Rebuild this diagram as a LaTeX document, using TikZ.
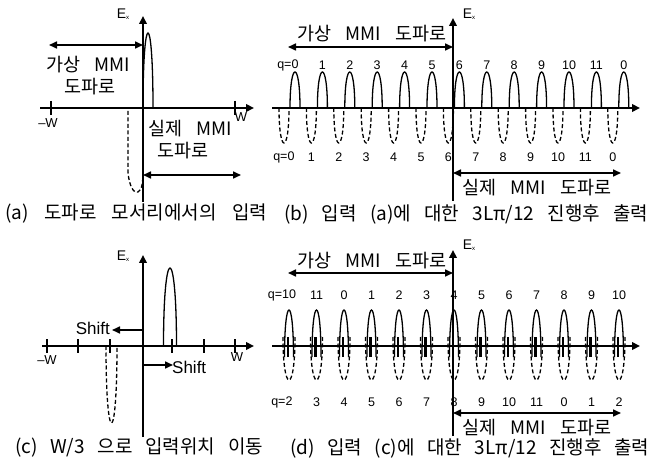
\documentclass[tikz,border=0pt]{standalone}
\usepackage{fontspec}
\setmainfont{Liberation Sans}
\newfontfamily\kr{Noto Sans CJK KR}
\usetikzlibrary{arrows.meta}
\tikzset{
  axisln/.style={line width=2.2pt,-{Triangle[length=8pt,width=7.5pt]}},
  dbl/.style={line width=1.6pt,{Triangle[length=8pt,width=7pt]}-{Triangle[length=8pt,width=7pt]}},
  hump/.style={line width=1.3pt},
  dhump/.style={line width=1.3pt,dash pattern=on 4pt off 2.5pt},
  tk/.style={line width=1.8pt},
  lab/.style={inner sep=0pt,font=\kr\fontsize{18.5}{18.5}\selectfont},
  captxt/.style={inner sep=0pt,anchor=west,font=\kr\fontsize{19}{19}\selectfont},
  num/.style={inner sep=0pt,font=\fontsize{12.5}{13}\selectfont},
  wl/.style={inner sep=0pt,font=\fontsize{13}{13}\selectfont},
  el/.style={inner sep=0pt,font=\fontsize{14}{14}\selectfont},
  sh/.style={inner sep=0pt,font=\fontsize{17}{17}\selectfont}
}
% hump: center, base y, half width, height (negative height = downward)
\newcommand\humpat[5][hump]{\draw[#1] ({#2-#4},#3) .. controls ({#2-#4},{#3-4*#5/3}) and ({#2+#4},{#3-4*#5/3}) .. ({#2+#4},#3);}
\newcommand\exlab{E\raisebox{-1pt}{\fontsize{6}{6}\selectfont x}}
\newcommand\spread[2]{\makebox[#1pt][s]{#2}}
\begin{document}
\begin{tikzpicture}[x=1pt,y=-1pt]
\useasboundingbox (0,0) rectangle (672,462);
\fill[white] (0,0) rectangle (672,462);

%%%%%%%%%%%%%%%% (a)
\coordinate (aL) at (40,108); \coordinate (aR) at (254,108);
\coordinate (aB) at (143,202); \coordinate (aT) at (143,16);
\draw[axisln] (aL) -- (aR);
\draw[axisln] (aB) -- (aT);
\draw[tk] (51,101) -- (51,115);
\draw[tk] (235,101) -- (235,115);
\node[wl] (amw) at (48,123) {\textendash W};
\node[wl] (aw) at (241,117) {W};
\node[el] (aex) at (123,14) {\exlab};
\humpat{148}{108}{5}{75}
\draw[line width=2.8pt] (143,45) -- (143,108);
\draw[dhump] (128,111) -- (128,172) .. controls (129,186) and (134,194) .. (138,192)
  .. controls (142,190) and (143,183) .. (143,170);
\coordinate (a1l) at (49,45); \coordinate (a1r) at (143,45);
\draw[dbl] (a1l) -- (a1r);
\node[lab] (a1t) at (88,65) {\spread{83}{가상 MMI}};
\node[lab] (a1u) at (90,87) {도파로};
\coordinate (a2l) at (143,175); \coordinate (a2r) at (241,175);
\draw[dbl] (a2l) -- (a2r);
\node[lab] (a2t) at (190,129) {\spread{84}{실제 MMI}};
\node[lab] (a2u) at (183,151) {도파로};
\node[captxt] (capa) at (5,214) {\spread{262}{(a) 도파로 모서리에서의 입력}};

%%%%%%%%%%%%%%%% (b)
\coordinate (bL) at (272,108); \coordinate (bR) at (640,108);
\coordinate (bB) at (453,201); \coordinate (bT) at (453,18);
\draw[axisln] (bL) -- (bR);
\draw[axisln] (bB) -- (bT);
\node[el] (bex) at (469,14) {\exlab};
\foreach \i/\t/\u in {0/0/0,1/1/1,2/2/2,3/3/3,4/4/4,5/5/5,6/6/6,7/7/7,8/8/8,9/9/9,10/10/10,11/11/11,12/0/0}{
  \pgfmathsetmacro\c{295+27.4*\i}
  \pgfmathsetmacro\d{284+27.4*\i}
  \humpat{\c}{108}{5}{36}
  \humpat[dhump]{\d}{108}{5}{-35}
  \ifnum\i=0
    \node[num] (bt\i) at (\c,65) {\llap{q=}\t};
    \node[num] (bb\i) at (291,157) {\llap{q=}\u};
  \else
    \node[num] (bt\i) at (\c,65) {\t};
    \node[num] (bb\i) at (\d,157) {\u};
  \fi
}
\coordinate (b1l) at (288,47); \coordinate (b1r) at (453,47);
\draw[dbl] (b1l) -- (b1r);
\node[lab] (b1t) at (372,34) {\spread{150}{가상 MMI 도파로}};
\coordinate (b2l) at (453,173); \coordinate (b2r) at (621,173);
\draw[dbl] (b2l) -- (b2r);
\node[lab] (b2t) at (537,188) {\spread{149}{실제 MMI 도파로}};
\node[captxt] (capb) at (284,214) {\spread{364}{(b) 입력 (a)에 대한 3Lπ/12 진행후 출력}};

%%%%%%%%%%%%%%%% (c)
\coordinate (cL) at (42,346); \coordinate (cR) at (254,346);
\coordinate (cB) at (143,437); \coordinate (cT) at (143,255);
\draw[axisln] (cL) -- (cR);
\draw[axisln] (cB) -- (cT);
\foreach \x in {47,78,110,172,204,235}{\draw[tk] (\x,339) -- (\x,353);}
\node[wl] (cmw) at (47,360) {\textendash W};
\node[wl] (cw) at (237,357) {W};
\node[el] (cex) at (123,256) {\exlab};
\humpat{170}{346}{6.5}{78}
\humpat[dhump]{111.5}{346}{5.5}{-77}
\coordinate (cs1) at (143,330); \coordinate (cs1e) at (112,330);
\draw[line width=1.6pt,-{Triangle[length=8pt,width=7pt]}] (cs1) -- (cs1e);
\node[sh,anchor=east] (cst1) at (110,328) {Shift};
\coordinate (cs2) at (143,365); \coordinate (cs2e) at (173,365);
\draw[line width=1.6pt,-{Triangle[length=8pt,width=7pt]}] (cs2) -- (cs2e);
\node[sh,anchor=west] (cst2) at (172,367) {Shift};
\node[captxt] (capc) at (15,448) {\spread{248}{(c) W/3 으로 입력위치 이동}};

%%%%%%%%%%%%%%%% (d)
\coordinate (dL) at (272,346); \coordinate (dR) at (640,346);
\coordinate (dB) at (453,436); \coordinate (dT) at (453,250);
\draw[axisln] (dL) -- (dR);
\draw[axisln] (dB) -- (dT);
\node[el] (dex) at (469,245) {\exlab};
\foreach \i/\t/\u in {0/10/2,1/11/3,2/0/4,3/1/5,4/2/6,5/3/7,6/4/8,7/5/9,8/6/10,9/7/11,10/8/0,11/9/1,12/10/2}{
  \pgfmathsetmacro\c{289+27.5*\i}
  \humpat{\c}{357}{4.5}{47}
  \humpat[dhump]{\c}{337}{6}{-43}
  \draw[line width=2.2pt] ({\c-1},337) -- ({\c-1},357);
  \ifnum\i=0
    \node[num] (dt\i) at (\c,295) {\llap{q=}\t};
    \node[num] (db\i) at (\c,402) {\llap{q=}\u};
  \else
    \node[num] (dt\i) at (\c,295) {\t};
    \node[num] (db\i) at (\c,402) {\u};
  \fi
}
\coordinate (d1l) at (288,273); \coordinate (d1r) at (453,273);
\draw[dbl] (d1l) -- (d1r);
\node[lab] (d1t) at (372,261) {\spread{150}{가상 MMI 도파로}};
\coordinate (d2l) at (453,413); \coordinate (d2r) at (621,413);
\draw[dbl] (d2l) -- (d2r);
\node[lab] (d2t) at (537,428) {\spread{149}{실제 MMI 도파로}};
\node[captxt] (capd) at (290,448) {\spread{359}{(d) 입력 (c)에 대한 3Lπ/12 진행후 출력}};
\end{tikzpicture}
\end{document}
